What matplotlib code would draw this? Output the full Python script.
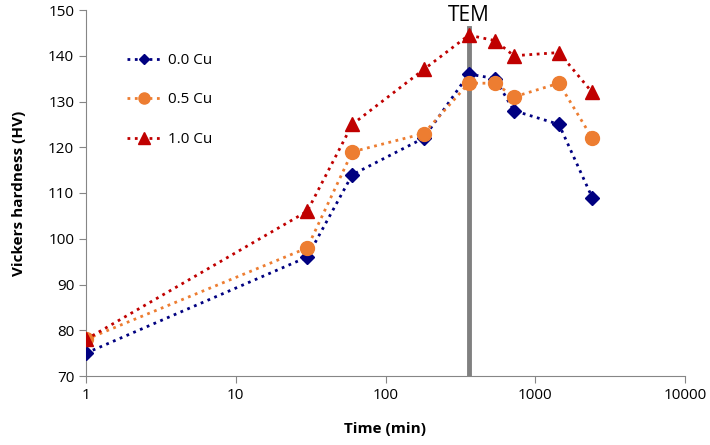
import matplotlib
matplotlib.use("Agg")
import matplotlib.pyplot as plt
from matplotlib.ticker import FixedLocator, FixedFormatter, NullLocator

time_min = [1, 30, 60, 180, 360, 540, 720, 1440, 2400]
cu00 = [75, 96, 114, 122, 136, 135, 128, 125, 109]
cu05 = [78, 98, 119, 123, 134, 134, 131, 134, 122]
cu10 = [78, 106, 125, 137, 144.5, 143.3, 140, 140.7, 132]
labels = ["0.0 Cu", "0.5 Cu", "1.0 Cu"]
tem_time = 360
x_ticks = [1, 10, 100, 1000, 10000]
y_ticks = list(range(70, 151, 10))

plt.rcParams['font.family'] = ['Open Sans', 'DejaVu Sans']

fig = plt.figure(figsize=(7.1, 4.45), dpi=100)
ax = fig.add_axes([86/710, 1 - 376/445, (685-86)/710, (376-10)/445])

ax.axvline(tem_time, ymin=0, ymax=0.95, color='#808080', lw=3.5, zorder=1)
ax.text(tem_time, 148.7, "TEM", ha='center', va='center', fontsize=15)

ax.plot(time_min, cu00, ls=':', lw=2, color='#000080', marker='D', ms=7, label=labels[0], zorder=3)
ax.plot(time_min, cu05, ls=':', lw=2, color='#ED7D31', marker='o', ms=10, label=labels[1], zorder=3)
ax.plot(time_min, cu10, ls=':', lw=2, color='#C00000', marker='^', ms=10, label=labels[2], zorder=3)

ax.set_xscale('log')
ax.set_xlim(1, 10000)
ax.set_ylim(70, 150)
ax.xaxis.set_major_locator(FixedLocator(x_ticks))
ax.xaxis.set_major_formatter(FixedFormatter([str(t) for t in x_ticks]))
ax.xaxis.set_minor_locator(NullLocator())
ax.set_yticks(y_ticks)

for s in ['top', 'right']:
    ax.spines[s].set_visible(False)
for s in ['left', 'bottom']:
    ax.spines[s].set_color('#868686')
ax.tick_params(axis='both', which='major', direction='out', length=5, color='#868686', labelsize=11)

ax.set_xlabel("Time (min)", fontsize=11, fontweight='bold', labelpad=14)
ax.set_ylabel("Vickers hardness (HV)", fontsize=11, fontweight='bold', labelpad=16)

leg = ax.legend(loc='upper left', bbox_to_anchor=(0.045, 0.92), frameon=False,
                fontsize=11, labelspacing=1.6, handlelength=2.3, handletextpad=0.4, markerscale=0.8)

fig.savefig("out.png", dpi=100)
